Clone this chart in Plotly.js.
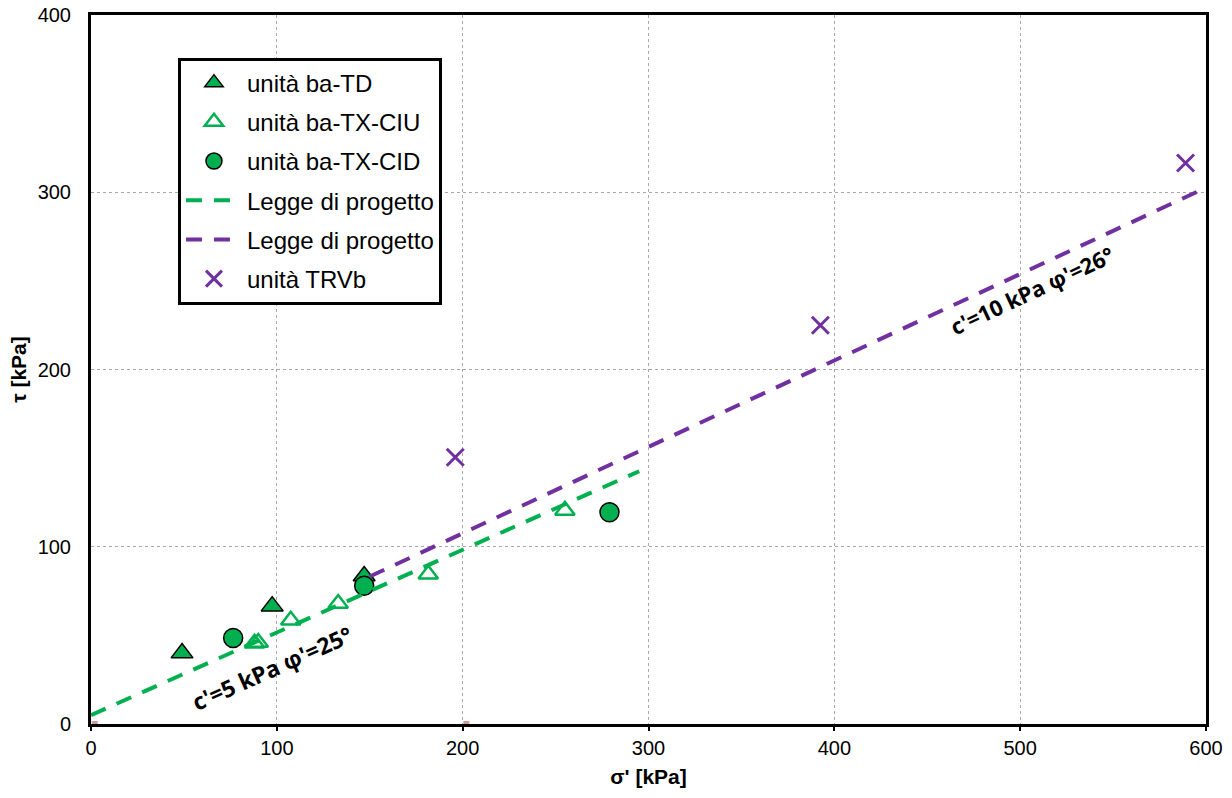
<!DOCTYPE html>
<html>
<head>
<meta charset="utf-8">
<script src="https://cdn.plot.ly/plotly-3.0.1.min.js"></script>
<style>html,body{margin:0;padding:0;background:#fff;}#chart{width:1232px;height:798px;}</style>
</head>
<body>
<div id="chart"></div>
<script>
// σ' [kPa] and τ [kPa] values
const tdSigma = [49, 97.5, 147];
const tdTau = [40, 66.5, 83.5];
const ciuSigma = [88, 90, 107.5, 133, 181.5, 255];
const ciuTau = [45.5, 46, 58.5, 68, 84.5, 120.5];
const cidSigma = [76.5, 147, 279];
const cidTau = [48.5, 78, 119.5];
const trvbSigma = [196, 392.5, 589];
const trvbTau = [150.5, 225, 316.5];
const lawGreenSigma = [0, 295];
const lawGreenTau = [5, 142.6];
const lawPurpleSigma = [150, 600];
const lawPurpleTau = [83.2, 302.6];
const originMarksSigma = [2, 202];
const originMarksTau = [0, 0];

const green = '#00B050';
const purple = '#7030A0';

const traces = [
  {x: tdSigma, y: tdTau, mode: 'markers', type: 'scatter', name: 'unità ba-TD', legendgroup: 'a',
   marker: {symbol: 'triangle-up', size: 19, color: green, line: {color: '#000', width: 1.5}}},
  {x: ciuSigma, y: ciuTau, mode: 'markers', type: 'scatter', name: 'unità ba-TX-CIU', legendgroup: 'b',
   marker: {symbol: 'triangle-up-open', size: 17, color: green, line: {color: green, width: 2.5}}},
  {x: cidSigma, y: cidTau, mode: 'markers', type: 'scatter', name: 'unità ba-TX-CID', legendgroup: 'c',
   marker: {symbol: 'circle', size: 19, color: green, line: {color: '#000', width: 1.5}}},
  {x: lawGreenSigma, y: lawGreenTau, mode: 'lines', type: 'scatter', name: 'Legge di progetto', legendgroup: 'd',
   line: {color: green, width: 4, dash: '16px,12px'}},
  {x: lawPurpleSigma, y: lawPurpleTau, mode: 'lines', type: 'scatter', name: 'Legge di progetto', legendgroup: 'e',
   line: {color: purple, width: 4, dash: '16px,12px'}},
  {x: trvbSigma, y: trvbTau, mode: 'markers', type: 'scatter', name: 'unità TRVb', legendgroup: 'f',
   marker: {symbol: 'x-thin-open', size: 17, color: purple, line: {color: purple, width: 3}}},
  {x: originMarksSigma, y: originMarksTau, mode: 'markers', type: 'scatter', showlegend: false,
   marker: {symbol: 'square', size: 6, color: '#d09a9a'}, cliponaxis: false}
];

const layout = {
  width: 1232, height: 798,
  margin: {l: 91, r: 26, t: 15, b: 74},
  paper_bgcolor: '#fff', plot_bgcolor: '#fff',
  font: {family: 'Liberation Sans, Arial, sans-serif', size: 20, color: '#000'},
  showlegend: true,
  legend: {x: 0.078, y: 0.94, xanchor: 'left', yanchor: 'top',
    bgcolor: '#fff', bordercolor: '#000', borderwidth: 3,
    font: {size: 24, color: '#000'}, itemwidth: 56, tracegroupgap: 5,
    traceorder: 'grouped'},
  xaxis: {range: [0, 600], dtick: 100, tick0: 0, showgrid: true,
    gridcolor: '#a8a8a8', griddash: 'dot', gridwidth: 1,
    showline: true, linecolor: '#000', linewidth: 3, mirror: true,
    ticks: 'outside', ticklen: 4, tickcolor: '#000', tickwidth: 2,
    zeroline: false, tickfont: {size: 20},
    title: {text: "σ' [kPa]", font: {size: 21, weight: 'bold'}, standoff: 12}},
  yaxis: {range: [0, 400], dtick: 100, tick0: 0, showgrid: true,
    gridcolor: '#a8a8a8', griddash: 'dot', gridwidth: 1,
    showline: true, linecolor: '#000', linewidth: 3, mirror: true,
    ticks: '', zeroline: false, tickfont: {size: 20}, ticklabelstandoff: 13,
    title: {text: 'τ [kPa]', font: {size: 21, weight: 'bold'}, standoff: 6}},
  annotations: [
    {x: 97.5, y: 31.5, xref: 'x', yref: 'y', text: "c'=5 kPa φ'=25°", showarrow: false,
     textangle: -24, font: {family: 'Open Sans, sans-serif', size: 23, weight: 'bold', color: '#000'}},
    {x: 506.5, y: 245, xref: 'x', yref: 'y', text: "c'=10 kPa φ'=26°", showarrow: false,
     textangle: -25, font: {family: 'Open Sans, sans-serif', size: 22, weight: 'bold', color: '#000'}}
  ]
};

Plotly.newPlot('chart', traces, layout, {displayModeBar: false, staticPlot: true});
</script>
</body>
</html>
